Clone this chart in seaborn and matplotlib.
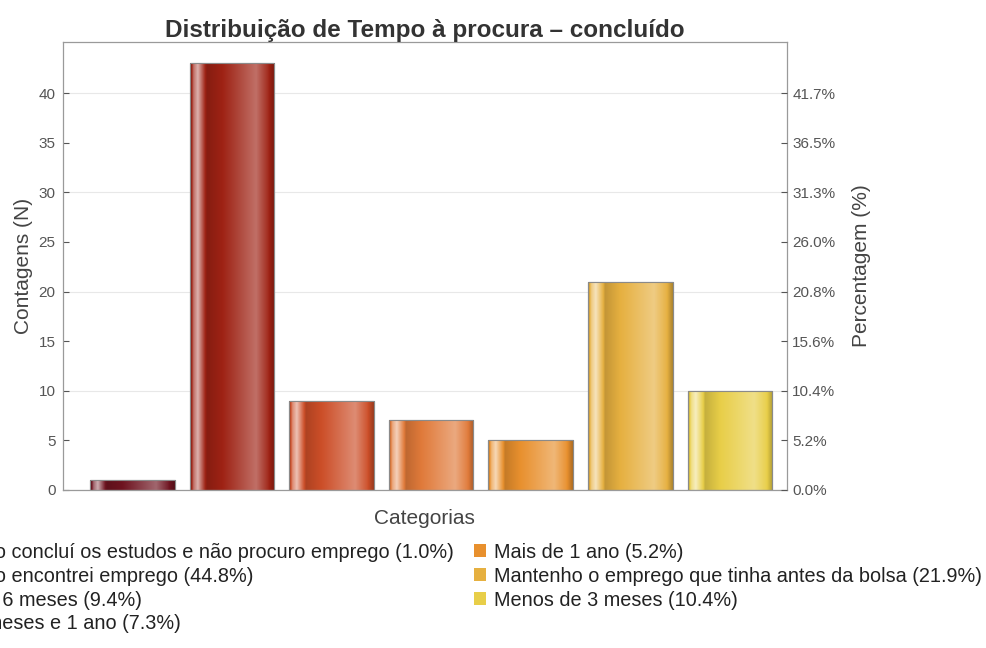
import numpy as np
import matplotlib
matplotlib.use("Agg")
import matplotlib.pyplot as plt
import matplotlib.colors as mcolors
from matplotlib.patches import Patch
import seaborn as sns

# data
categories = ["Ainda não concluí os estudos e não procuro emprego",
              "Ainda não encontrei emprego",
              "Entre 3 e 6 meses",
              "Entre 6 meses e 1 ano",
              "Mais de 1 ano",
              "Mantenho o emprego que tinha antes da bolsa",
              "Menos de 3 meses"]
counts = [1, 43, 9, 7, 5, 21, 10]
colors = ["#6e1420", "#9e2214", "#cc4e28", "#e07a3a", "#e8902e", "#e6b040", "#e8ce48"]
yticks = [0, 5, 10, 15, 20, 25, 30, 35, 40]

total = sum(counts)


def pct(v):
    # round half up, like the original chart (31.25 -> 31.3)
    return f"{np.floor(v / total * 1000 + 0.5) / 10:.1f}%"


sns.set_style("white")
plt.rcParams["font.family"] = ["Liberation Sans", "DejaVu Sans"]

fig = plt.figure(figsize=(9.87, 6.48), dpi=100)
ax = fig.add_axes([0.0635, 0.244, 0.7335, 0.691])

sns.barplot(x=categories, y=counts, hue=categories, palette=colors,
            legend=False, width=0.85, ax=ax, edgecolor="#8a8a8a", linewidth=0.8, zorder=2)

#cylinder like shading on each bar
t = np.linspace(0, 1, 200)
tp = [0, 0.04, 0.09, 0.2, 0.5, 0.78, 0.92, 1.0]
fp = [-0.3, 0.35, 0.65, -0.15, 0.1, 0.35, 0.05, -0.25]
f = np.interp(t, tp, fp)
for patch, c in zip(ax.patches, colors):
    base = np.array(mcolors.to_rgb(c))
    img = np.zeros((1, len(t), 3))
    for i, v in enumerate(f):
        if v >= 0:
            img[0, i] = base + (1 - base) * v
        else:
            img[0, i] = base * (1 + v)
    x0, y0 = patch.get_x(), patch.get_y()
    w, h = patch.get_width(), patch.get_height()
    im = ax.imshow(img, extent=[x0, x0 + w, y0, y0 + h], aspect="auto", zorder=2.5)
    im.set_clip_path(patch)
    ax.add_patch(plt.Rectangle((x0, y0), w, h, fill=False, edgecolor="#8a8a8a",
                               linewidth=0.8, zorder=3))

ax.set_xlim(-0.70, 6.57)
ax.set_ylim(0, 45.15)
# grid only on the 10 steps, 5 steps as minor ticks
major = yticks[::2]
minor = yticks[1::2]
ax.set_yticks(major, labels=[str(v) for v in major])
ax.set_yticks(minor, labels=[str(v) for v in minor], minor=True)
ax.set_xticks([])
ax.yaxis.grid(True, which="major", color="#e8e8e8", linewidth=0.8, zorder=0)
ax.set_axisbelow(True)
ax.tick_params(axis="y", which="both", colors="#555555", labelsize=11, length=4,
               direction="in", left=True, width=0.8, pad=5)
for s in ax.spines.values():
    s.set_color("#9a9a9a")
    s.set_linewidth(0.9)

ax.set_xlabel("Categorias", fontsize=15, color="#444444", labelpad=14)
ax.set_ylabel("Contagens (N)", fontsize=15, color="#444444", labelpad=4)
ax.set_title("Distribuição de Tempo à procura – concluído", fontsize=17.5,
             fontweight="bold", color="#333333", pad=4)

ax2 = ax.twinx()
ax2.set_ylim(ax.get_ylim())
ax2.set_yticks(major, labels=[pct(v) for v in major])
ax2.set_yticks(minor, labels=[pct(v) for v in minor], minor=True)
ax2.tick_params(axis="y", which="both", colors="#555555", labelsize=11, length=4,
                direction="in", right=True, width=0.8, pad=4)
ax2.set_ylabel("Percentagem (%)", fontsize=15, color="#444444", labelpad=12)
for s in ax2.spines.values():
    s.set_visible(False)

handles = [Patch(facecolor=c, edgecolor="none") for c in colors]
labels = [f"{cat} ({pct(n)})" for cat, n in zip(categories, counts)]
fig.legend(handles, labels, ncol=2, loc="upper right", bbox_to_anchor=(1.005, 0.178),
           frameon=False, fontsize=14.3, handlelength=0.6, handleheight=0.6,
           handletextpad=0.4, columnspacing=1.0, labelspacing=0.25, borderpad=0,
           labelcolor="#222222")

fig.savefig("out.png", dpi=100)
